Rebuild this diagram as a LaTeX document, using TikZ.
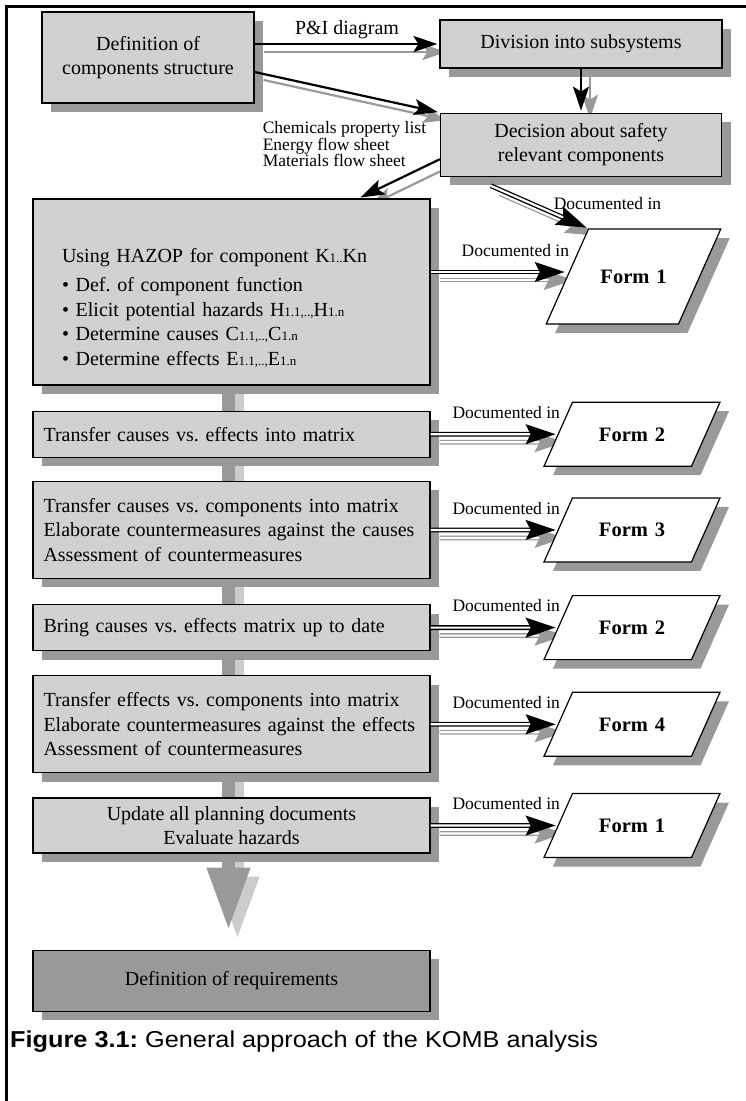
\documentclass[tikz,border=0pt]{standalone}
\usepackage{fontspec}
\setmainfont{Liberation Serif}
\newfontfamily\capfont{Liberation Sans}
\usepackage{graphicx}
\usetikzlibrary{arrows.meta, positioning, shapes.geometric, shadows, backgrounds}

\newcommand{\smidx}[1]{{\fontsize{13}{13}\selectfont #1}}
\frenchspacing

\begin{document}
\begin{tikzpicture}[x=1pt, y=-1pt, >=Stealth,
    font=\fontsize{20}{24.5}\selectfont,
    box/.style={rectangle, draw=black, line width=1.2pt, fill=black!18,
      inner sep=0pt, minimum width=397pt, align=center,
      drop shadow={shadow xshift=9pt, shadow yshift=-9pt, fill=black!40, opacity=1}},
    lbox/.style={box, text width=376pt, align=left},
    form/.style={trapezium, trapezium left angle=66, trapezium right angle=114,
      draw=black, line width=1.2pt, fill=white, inner sep=0pt,
      text width=119pt, align=center, text height=39pt, text depth=25pt,
      font=\fontsize{20.5}{24}\selectfont\bfseries,
      drop shadow={shadow xshift=9pt, shadow yshift=-9pt, fill=black!40, opacity=1}},
    doc/.style={font=\fontsize{17.5}{16.5}\selectfont, inner sep=0pt},
    dlbl/.style={doc, pos=1, anchor=south east, yshift=15pt, xshift=3pt},
    flow/.style={line width=2.2pt, shorten >=2pt,
      -{Stealth[length=24pt, width=16pt, inset=5pt]}},
    dflow/.style={line width=1.3pt, double=white, double distance=2.2pt,
      shorten >=2pt, -{Stealth[length=30pt, width=20pt, inset=5pt]}},
    shd/.style={black!40, transform canvas={shift={(9pt,-8pt)}}},
    big/.style={line width=13pt, -{Triangle[length=63pt, width=40pt]}}]

  \useasboundingbox (0,0) rectangle (746,1101);
  \draw[line width=2.3pt] (6.5,1101) -- (6.5,6.5) -- (746,6.5);

  % top: structure, subsystems, decision
  \node[box, minimum width=212pt, minimum height=91pt] (defc) at (148,57.5)
    {Definition of\\components structure};
  \node[box, minimum width=282pt, minimum height=48pt] (div) at (581,44)
    {Division into subsystems};
  \node[box, minimum width=281pt, minimum height=63pt, below=44pt of div] (dec)
    {Decision about safety\\relevant components};
  \node[doc, align=left, below right=18pt and 8pt of defc.south east] (docs)
    {Chemicals property list\\Energy flow sheet\\Materials flow sheet};

  % left column
  \node[lbox, minimum height=186pt, text width=339pt] (hazop) at (231.5,292)
    {\rule{0pt}{46pt}Using HAZOP for component K\smidx{1..}Kn\\[4.5pt]
     • Def. of component function\\
     • Elicit potential hazards H\smidx{1.1,..,}H\smidx{1.n}\\
     • Determine causes C\smidx{1.1,..,}C\smidx{1.n}\\
     • Determine effects E\smidx{1.1,..,}E\smidx{1.n}};
  \node[lbox, minimum height=46pt, below=25pt of hazop] (tce)
    {Transfer causes vs. effects into matrix};
  \node[lbox, minimum height=97pt, below=23pt of tce] (tcc)
    {Transfer causes vs. components into matrix\\
     Elaborate countermeasures against the causes\\
     Assessment of countermeasures};
  \node[lbox, minimum height=46pt, below=25pt of tcc] (bring)
    {Bring causes vs. effects matrix up to date};
  \node[lbox, minimum height=97pt, below=24pt of bring] (tec)
    {Transfer effects vs. components into matrix\\
     Elaborate countermeasures against the effects\\
     Assessment of countermeasures};
  \node[box, minimum height=55pt, below=24pt of tec] (upd)
    {Update all planning documents\\Evaluate hazards};
  \node[box, fill=black!40, minimum height=61pt, below=96pt of upd] (req)
    {Definition of requirements};

  % forms (right column)
  \node[form, text width=90pt, text height=54.5pt, text depth=40.5pt] (f1a)
    at (633.5,276.5) {Form 1};
  \node[form] (f2a) at (632,0 |- tce) {Form 2};
  \node[form] (f3) at (632,0 |- tcc) {Form 3};
  \node[form] (f2b) at (632,0 |- bring) {Form 2};
  \node[form] (f4) at (632,0 |- tec) {Form 4};
  \node[form] (f1b) at (632,0 |- upd) {Form 1};

  % flow between the steps
  \draw[flow] (defc.east |- div.west) --
    node[above=4pt, inner sep=0pt] (pid) {P\&I diagram} (div.west);
  \draw[flow] ([yshift=-14.5pt]defc.east) -- (dec.north west);
  \draw[flow] (div) -- (dec);
  \draw[flow] ([yshift=-14.5pt]dec.west) -- ([xshift=-72pt]hazop.north east);

  % documented in
  \draw[dflow] ([shift={(51pt,-9pt)}]dec.south west) -- (f1a.top left corner)
    node[doc, pos=1, anchor=south west, shift={(-35pt,18pt)}] (dl0) {Documented in};
  \draw[dflow] ([yshift=20pt]hazop.east) coordinate (h1) --
    node[dlbl] (dl1) {Documented in} (h1 -| f1a.west);
  \draw[dflow] (tce.east) -- node[dlbl] (dl2) {Documented in} (f2a.west);
  \draw[dflow] (tcc.east) -- node[dlbl] (dl3) {Documented in} (f3.west);
  \draw[dflow] (bring.east) -- node[dlbl] (dl4) {Documented in} (f2b.west);
  \draw[dflow] (tec.east) -- node[dlbl] (dl5) {Documented in} (f4.west);
  \draw[dflow] (upd.east) -- node[dlbl] (dl6) {Documented in} (f1b.west);

  % shadows of the connectors and the main arrow
  \begin{scope}[on background layer]
    \draw[big, black!20, transform canvas={shift={(9pt,-9pt)}}]
      ([xshift=-3pt]hazop.center) -- ([shift={(-3pt,19pt)}]req.north);
    \draw[big, black!40]
      ([xshift=-3pt]hazop.center) -- ([shift={(-3pt,19pt)}]req.north);
    \draw[flow, shd] (defc.east |- div.west) -- (div.west);
    \draw[flow, shd] ([yshift=-14.5pt]defc.east) -- (dec.north west);
    \draw[flow, shd] (div) -- (dec);
    \draw[flow, shd] ([yshift=-14.5pt]dec.west) -- ([xshift=-72pt]hazop.north east);
    \draw[dflow, shd] ([shift={(51pt,-9pt)}]dec.south west) -- (f1a.top left corner);
    \draw[dflow, shd] (h1) -- (h1 -| f1a.west);
    \draw[dflow, shd] (tce.east) -- (f2a.west);
    \draw[dflow, shd] (tcc.east) -- (f3.west);
    \draw[dflow, shd] (bring.east) -- (f2b.west);
    \draw[dflow, shd] (tec.east) -- (f4.west);
    \draw[dflow, shd] (upd.east) -- (f1b.west);
  \end{scope}

  % caption
  \node[anchor=west, inner sep=0pt, font=\capfont\fontsize{23}{26}\selectfont]
    (cap) at (10,1042)
    {\scalebox{1.1}[1]{\textbf{Figure 3.1:} General approach of the KOMB analysis}};

\end{tikzpicture}
\end{document}
